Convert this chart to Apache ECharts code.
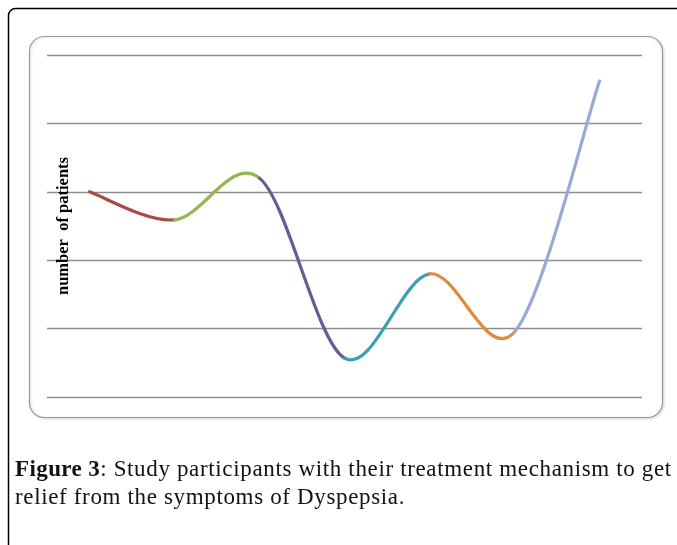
<!DOCTYPE html>
<html>
<head>
<meta charset="utf-8">
<script src="https://cdn.jsdelivr.net/npm/echarts@6/dist/echarts.min.js"></script>
<style>
  html, body { margin: 0; padding: 0; background: #fff; }
  #wrap { position: relative; width: 677px; height: 545px; overflow: hidden; }
  #chart { position: absolute; left: 0; top: 0; width: 677px; height: 545px; }
  .caption {
      position: absolute; left: 15px; top: 455px; width: 680px;
      font-family: "Liberation Serif", serif; font-size: 23px; line-height: 28px;
      letter-spacing: 0.65px; color: #111; white-space: pre;
  }
  .caption b { letter-spacing: 0.4px; }
</style>
</head>
<body>
<div id="wrap">
  <div id="chart"></div>
  <div class="caption"><b>Figure 3</b>: Study participants with their treatment mechanism to get
relief from the symptoms of Dyspepsia.</div>
</div>
<script>
// groups along the x axis (no labels are printed in the original)
const categories = ['1', '2', '3', '4', '5', '6', '7'];
// number of patients (gridlines every 10)
const patients = [30, 25.9, 32, 5.7, 18, 9.5, 46.2];
// one colour per segment, like Excel's "vary colours by point"
const segmentColors = ['#a84a45', '#94b653', '#6c5996', '#3b9fb0', '#e08a3e', '#95aad5'];

const yTicks = { min: 0, max: 50, interval: 10 };

// Excel-style smoothing: bezier control points from neighbouring points
function renderSegment(params, api) {
    const i = params.dataIndex;
    if (i >= patients.length - 1) return null;
    const p = k => {
        const j = Math.max(0, Math.min(patients.length - 1, k));
        return api.coord([j, patients[j]]);
    };
    const p0 = p(i - 1), p1 = p(i), p2 = p(i + 1), p3 = p(i + 2);
    return {
        type: 'bezierCurve',
        shape: {
            x1: p1[0], y1: p1[1],
            cpx1: p1[0] + (p2[0] - p0[0]) / 6, cpy1: p1[1] + (p2[1] - p0[1]) / 6,
            cpx2: p2[0] - (p3[0] - p1[0]) / 6, cpy2: p2[1] - (p3[1] - p1[1]) / 6,
            x2: p2[0], y2: p2[1]
        },
        style: { stroke: segmentColors[i], lineWidth: 3.2, fill: null, lineCap: 'round' }
    };
}

const chart = echarts.init(document.getElementById('chart'));
chart.setOption({
    animation: false,
    grid: { left: 47, right: 35, top: 55, bottom: 148 },
    graphic: [
        {
            type: 'rect', z: 0,
            shape: { x: 8.5, y: 8.5, width: 720, height: 600, r: 7 },
            style: { fill: 'none', stroke: '#000', lineWidth: 1.5 }
        },
        {
            type: 'rect', z: 0,
            shape: { x: 29.5, y: 36.5, width: 633, height: 381, r: 15 },
            style: { fill: '#fff', stroke: '#999', lineWidth: 1.2,
                shadowBlur: 3, shadowColor: 'rgba(0,0,0,0.15)', shadowOffsetX: 1, shadowOffsetY: 1 }
        }
    ],
    xAxis: {
        type: 'category',
        data: categories,
        boundaryGap: true,
        axisLine: { show: false },
        axisTick: { show: false },
        axisLabel: { show: false }
    },
    yAxis: {
        type: 'value',
        min: yTicks.min, max: yTicks.max, interval: yTicks.interval,
        name: 'number  of patients',
        nameLocation: 'middle',
        nameGap: -25,
        nameTextStyle: { fontFamily: 'Liberation Serif', fontWeight: 'bold', fontSize: 16.5, color: '#000' },
        axisLine: { show: false },
        axisTick: { show: false },
        axisLabel: { show: false },
        splitLine: { lineStyle: { color: '#8e8e8e', width: 1.3 } }
    },
    series: [{
        type: 'custom',
        renderItem: renderSegment,
        data: patients.map((v, i) => [i, v]),
        encode: { x: 0, y: 1 }
    }]
});
</script>
</body>
</html>
